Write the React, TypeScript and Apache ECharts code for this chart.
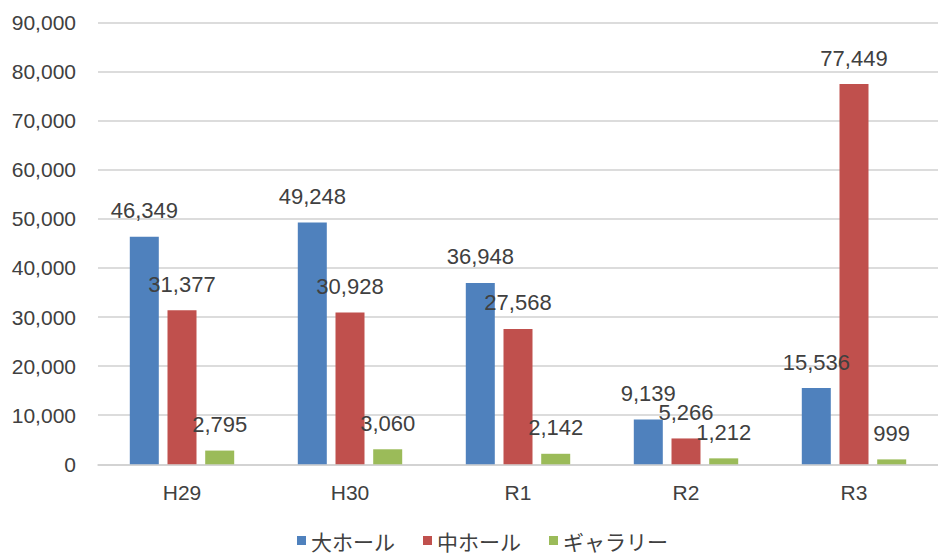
import React, { useEffect, useRef } from "react";
import * as echarts from "echarts";

const categories = ["H29", "H30", "R1", "R2", "R3"];
const seriesNames = ["大ホール", "中ホール", "ギャラリー"];
const largeHall = [46349, 49248, 36948, 9139, 15536];
const middleHall = [31377, 30928, 27568, 5266, 77449];
const gallery = [2795, 3060, 2142, 1212, 999];
const colors = ["#4F81BD", "#C0504D", "#9BBB59"];

const fmt = (v: number) => v.toLocaleString("en-US");

export default function App() {
  const ref = useRef<HTMLDivElement>(null);
  useEffect(() => {
    if (!ref.current) return;
    const chart = echarts.init(ref.current, undefined, { renderer: "svg" });
    const labelStyle = {
      show: true,
      position: "top" as const,
      distance: 15,
      fontSize: 22,
      color: "#404040",
      fontFamily: "Liberation Sans, Arial, sans-serif",
      formatter: (p: any) => fmt(p.value),
    };
    const data = [largeHall, middleHall, gallery];
    chart.setOption({
      animation: false,
      backgroundColor: "#ffffff",
      grid: { left: 98, right: -8, top: 22.5, bottom: 91.7, containLabel: false },
      legend: {
        left: 292,
        top: 525,
        itemWidth: 9,
        itemHeight: 9,
        itemGap: 28,
        icon: "rect",
        textStyle: {
          fontSize: 21,
          color: "#404040",
          fontFamily: "Noto Sans CJK JP, sans-serif",
        },
        data: seriesNames,
      },
      xAxis: {
        type: "category",
        data: categories,
        axisLine: { lineStyle: { color: "#d0d0d0", width: 1.5 } },
        axisTick: { show: false },
        axisLabel: {
          fontSize: 21,
          color: "#404040",
          margin: 18,
          fontFamily: "Liberation Sans, Arial, sans-serif",
        },
      },
      yAxis: {
        type: "value",
        min: 0,
        max: 90000,
        interval: 10000,
        axisLine: { show: false },
        axisTick: { show: false },
        splitLine: { lineStyle: { color: "#d0d0d0", width: 1.5 } },
        axisLabel: {
          fontSize: 21,
          color: "#404040",
          margin: 22,
          fontFamily: "Liberation Sans, Arial, sans-serif",
          formatter: (v: number) => fmt(v),
        },
      },
      series: seriesNames.map((name, i) => ({
        name,
        type: "bar",
        data: data[i],
        barWidth: 29,
        barGap: "30%",
        itemStyle: { color: colors[i] },
        label: labelStyle,
      })),
    });
    return () => chart.dispose();
  }, []);
  return <div ref={ref} style={{ width: 938, height: 556, position: "absolute", left: 0, top: 0 }} />;
}
